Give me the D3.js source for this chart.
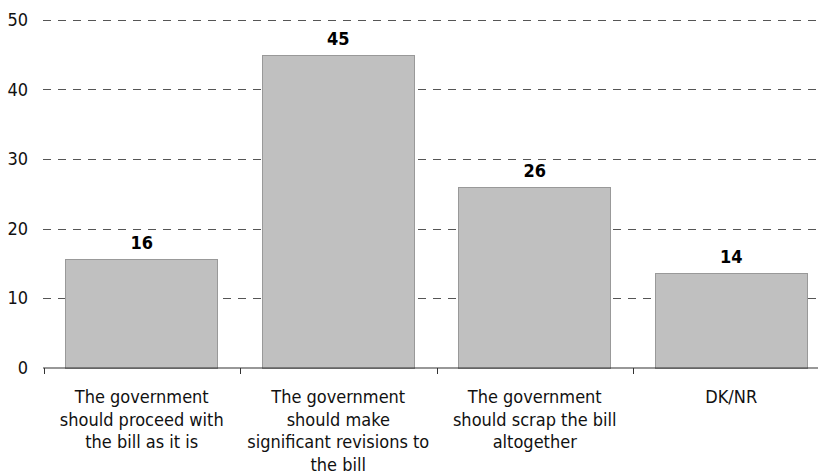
<!DOCTYPE html>
<html><head><meta charset="utf-8">
<script src="https://cdn.jsdelivr.net/npm/d3@7"></script>
<style>body{margin:0;background:#fff}svg{display:block}</style>
</head><body>
<svg id="c" width="818" height="474"></svg>
<script>
const categories = [
  "The government\nshould proceed with\nthe bill as it is",
  "The government\nshould make\nsignificant revisions to\nthe bill",
  "The government\nshould scrap the bill\naltogether",
  "DK/NR"
];
const values = [15.6, 45, 26, 13.6];
const valueLabels = ["16", "45", "26", "14"];
const yTicks = [0, 10, 20, 30, 40, 50];

const svg = d3.select("#c");
const font = "'DejaVu Sans Condensed', 'Liberation Sans', sans-serif";
const x = d3.scaleBand().domain(d3.range(categories.length)).range([43.5, 829.5]).paddingInner(0.225).paddingOuter(0.1125);
const xb = d3.scaleBand().domain(d3.range(categories.length)).range([43.5, 829.5]);
const y = d3.scaleLinear().domain([0, 50]).range([367.5, 20]);

// gridlines
svg.append("g").selectAll("line").data(yTicks.filter(d => d > 0)).join("line")
  .attr("x1", 43).attr("x2", 818)
  .attr("y1", d => Math.round(y(d)) + 0.5).attr("y2", d => Math.round(y(d)) + 0.5)
  .attr("stroke", "#555").attr("stroke-width", 1).attr("stroke-dasharray", "8,7");

// y labels
svg.append("g").selectAll("text").data(yTicks).join("text")
  .attr("x", 28).attr("y", d => y(d)).attr("dy", "0.36em")
  .attr("text-anchor", "end").attr("font-family", font).attr("font-size", 18).attr("fill", "#111")
  .text(d => d);

// bars
svg.append("g").selectAll("rect").data(values).join("rect")
  .attr("x", (d, i) => Math.floor(x(i)) + 0.5).attr("width", Math.round(x.bandwidth()))
  .attr("y", d => Math.round(y(d)) + 0.5).attr("height", d => Math.round(y(0)) - Math.round(y(d)))
  .attr("fill", "#c0c0c0").attr("stroke", "#999").attr("stroke-width", 1);

// value labels
svg.append("g").selectAll("text").data(values).join("text")
  .attr("x", (d, i) => x(i) + x.bandwidth() / 2).attr("y", d => y(d) - 10)
  .attr("text-anchor", "middle").attr("font-family", font).attr("font-size", 18).attr("font-weight", "bold")
  .text((d, i) => valueLabels[i]);

// x axis
const ax = svg.append("g");
ax.append("line").attr("x1", 43).attr("x2", 818).attr("y1", 368).attr("y2", 368).attr("stroke", "#333").attr("stroke-width", 1.2);
ax.selectAll("line.t").data(d3.range(categories.length + 1)).join("line").attr("class", "t")
  .attr("x1", i => Math.round(i < categories.length ? xb(i) : xb.range()[1]) + 0.5)
  .attr("x2", i => Math.round(i < categories.length ? xb(i) : xb.range()[1]) + 0.5)
  .attr("y1", 368).attr("y2", 374).attr("stroke", "#333");

const lbl = ax.selectAll("text").data(categories).join("text")
  .attr("text-anchor", "middle").attr("font-family", font).attr("font-size", 18).attr("fill", "#111");
lbl.each(function(d, i) {
  const t = d3.select(this);
  d.split("\n").forEach((line, k) => {
    t.append("tspan").attr("x", xb(i) + xb.bandwidth() / 2).attr("y", 403 + k * 22.5).text(line);
  });
});
</script>
</body></html>
